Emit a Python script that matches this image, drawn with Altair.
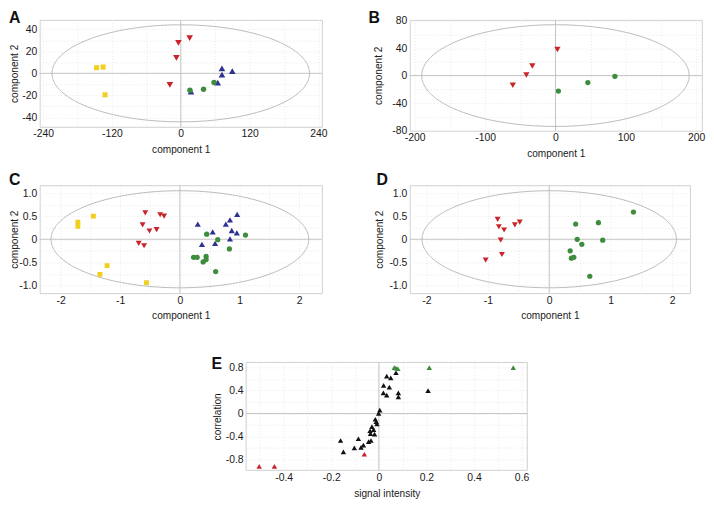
import altair as alt
import numpy as np
import pandas as pd

FONT = "Liberation Sans"
TXT = "#1a1a1a"
FRAME = "#cfcfcf"

GROUPS = ["Y", "R", "B", "G", "EK", "ER", "EG"]
GROUP_COLORS = ["#f0cf1e", "#c9242b", "#2f3192", "#3e8c3e", "#111111", "#c9242b", "#3e8c3e"]
GROUP_SHAPES = ["square", "triangle-down", "triangle-up", "circle",
                "triangle-up", "triangle-up", "triangle-up"]

# ---------------- Panel A ----------------
A_x = [-146.8, -135.4, -132.0, 15.5, -4.1, -7.6, -19.0, 16.0, 39.7, 58.0,
       17.8, 64.4, 71.8, 71.8, 89.8]
A_y = [5.1, 5.7, -19.5, 32.0, 27.6, 14.1, -10.5, -15.3, -14.4, -8.4,
       -16.5, -8.4, 4.5, -1.2, 2.1]
A_g = ["Y", "Y", "Y", "R", "R", "R", "R", "G", "G", "G", "B", "B", "B", "B", "B"]
A_ell = [224.5, 44.0]
A_xgrid = [-240, -180, -120, -60, 0, 60, 120, 180, 240]
A_xticks = [-240, -120, 0, 120, 240]
A_xlabels = ["-240", "-120", "0", "120", "240"]
A_ygrid = [-40, -30, -20, -10, 0, 10, 20, 30, 40]
A_yticks = [-40, -20, 0, 20, 40]
A_ylabels = ["-40", "-20", "0", "20", "40"]

# ---------------- Panel B ----------------
B_x = [2.8, -32.9, -41.3, -60.6, 4.2, 46.0, 84.5]
B_y = [37.9, 13.9, 0.9, -14.0, -22.6, -10.1, -1.0]
B_g = ["R", "R", "R", "R", "G", "G", "G"]
B_ell = [190.0, 74.0]
B_xgrid = [-200, -150, -100, -50, 0, 50, 100, 150, 200]
B_xticks = [-200, -100, 0, 100, 200]
B_xlabels = ["-200", "-100", "0", "100", "200"]
B_ygrid = [-80, -60, -40, -20, 0, 20, 40, 60, 80]
B_yticks = [-80, -40, 0, 40, 80]
B_ylabels = ["-80", "-40", "0", "40", "80"]

# ---------------- Panel C ----------------
C_x = [-1.45, -1.71, -1.71, -1.22, -1.34, -0.56,
       -0.58, -0.33, -0.265, -0.625, -0.51, -0.39, -0.69, -0.60,
       0.30, 0.55, 0.37, 0.59, 0.77, 0.84, 0.96, 0.87, 0.955, 0.84,
       0.45, 0.635, 1.10, 0.83, 0.23, 0.29, 0.44, 0.44, 0.39, 0.60]
C_y = [0.50, 0.37, 0.28, -0.57, -0.76, -0.94,
       0.57, 0.53, 0.50, 0.31, 0.18, 0.21, -0.09, -0.14,
       0.33, 0.16, -0.11, -0.09, 0.33, 0.42, 0.54, 0.19, 0.14, 0.01,
       0.11, -0.01, 0.09, -0.21, -0.39, -0.39, -0.37, -0.44, -0.49, -0.70]
C_g = ["Y"] * 6 + ["R"] * 8 + ["B"] * 10 + ["G"] * 10
C_ell = [2.16, 1.05]
CD_xgrid = [-2, -1.5, -1, -0.5, 0, 0.5, 1, 1.5, 2]
CD_xticks = [-2, -1, 0, 1, 2]
CD_xlabels = ["-2", "-1", "0", "1", "2"]
CD_ygrid = [-1, -0.75, -0.5, -0.25, 0, 0.25, 0.5, 0.75, 1]
CD_yticks = [-1, -0.5, 0, 0.5, 1]
CD_ylabels = ["-1.0", "-0.5", "0", "0.5", "1.0"]

# ---------------- Panel D ----------------
D_x = [-0.84, -0.82, -0.735, -0.56, -0.48, -0.79, -0.77, -1.035,
       1.37, 0.80, 0.43, 0.455, 0.87, 0.53, 0.34, 0.36, 0.40, 0.66]
D_y = [0.43, 0.27, 0.20, 0.31, 0.37, -0.02, -0.33, -0.45,
       0.59, 0.36, 0.33, 0.0, -0.02, -0.11, -0.25, -0.41, -0.39, -0.80]
D_g = ["R"] * 8 + ["G"] * 10
D_ell = [2.07, 1.05]

# ---------------- Panel E ----------------
E_x = [-0.161, -0.149, -0.103, -0.086, -0.075, -0.065, -0.043, -0.033, -0.037,
       -0.035, -0.029, -0.022, -0.018, -0.015, -0.011, -0.008, -0.001, 0.004,
       0.019, 0.020, 0.033, 0.033, 0.044, 0.050, 0.072, 0.082, 0.082, 0.207,
       -0.503, -0.439, -0.061,
       0.065, 0.072, 0.080, 0.212, 0.565]
E_y = [-0.47, -0.67, -0.60, -0.44, -0.59, -0.55, -0.49, -0.47, -0.30,
       -0.35, -0.23, -0.28, -0.36, -0.10, -0.14, -0.18, 0.0, 0.06,
       0.36, 0.49, 0.32, 0.65, 0.46, 0.62, 0.71, 0.36, 0.29, 0.40,
       -0.92, -0.92, -0.71,
       0.80, 0.79, 0.78, 0.80, 0.80]
E_g = ["EK"] * 28 + ["ER"] * 3 + ["EG"] * 5
E_xgrid = [-0.5, -0.4, -0.3, -0.2, -0.1, 0, 0.1, 0.2, 0.3, 0.4, 0.5, 0.6]
E_xticks = [-0.4, -0.2, 0, 0.2, 0.4, 0.6]
E_xlabels = ["-0.4", "-0.2", "0", "0.2", "0.4", "0.6"]
E_ygrid = [-0.8, -0.6, -0.4, -0.2, 0, 0.2, 0.4, 0.6, 0.8]
E_yticks = [-0.8, -0.4, 0, 0.4, 0.8]
E_ylabels = ["-0.8", "-0.4", "0", "0.4", "0.8"]


def label_expr(vals, labs):
    expr = "''"
    for v, s in zip(vals, labs):
        expr = f"datum.value == {v} ? '{s}' : ({expr})"
    return expr


def panel(x, y, g, sizes, ell, xdom, ydom, grids, w, h, letter, ldx, ldy,
          xtitle, ytitle, ytx, shift=0.0):
    xgrid, xticks, xlabels, ygrid, yticks, ylabels = grids
    pts = pd.DataFrame({"x": x, "y": y, "g": g})
    common = dict(ticks=False, domain=False, grid=True, gridColor="#e9e9e9",
                  gridDash=[1, 2], gridWidth=1, labelFont=FONT, labelFontSize=10.5,
                  labelColor=TXT, labelOverlap=False, titleFont=FONT,
                  titleFontSize=10.2, titleFontWeight="normal", titleColor=TXT,
                  titleBaseline="middle", titleAlign="center")
    xa = alt.Axis(values=xgrid, labelExpr=label_expr(xticks, xlabels), labelPadding=2,
                  labelFlush=False, titleX=shift + w / 2, titleY=23, **common)
    yextra = {"offset": -shift} if shift else {}
    ya = alt.Axis(values=ygrid, labelExpr=label_expr(yticks, ylabels), labelPadding=3,
                  titleX=ytx, titleY=h / 2, titleAngle=270, **yextra, **common)
    xscale = dict(domain=xdom, nice=False, zero=False)
    if shift:
        xscale["range"] = [shift, shift + w]
    X = alt.X("x:Q", scale=alt.Scale(**xscale), axis=xa, title=xtitle)
    Y = alt.Y("y:Q", scale=alt.Scale(domain=ydom, nice=False, zero=False), axis=ya,
              title=ytitle)
    layers = []
    if shift:
        box = pd.DataFrame({"x": [xdom[0]], "x2": [xdom[1]],
                            "y": [ydom[0]], "y2": [ydom[1]]})
        layers.append(alt.Chart(box).mark_rect(
            fill="transparent", stroke=FRAME, strokeWidth=1).encode(
            x=X, x2="x2:Q", y=Y, y2="y2:Q"))
        hl = pd.DataFrame({"x": [xdom[0]], "x2": [xdom[1]], "y": [0]})
        layers.append(alt.Chart(hl).mark_rule(color="#c4c4c4", strokeWidth=1).encode(
            x=X, x2="x2:Q", y=Y))
    else:
        layers.append(alt.Chart(pd.DataFrame({"y": [0]})).mark_rule(
            color="#c4c4c4", strokeWidth=1).encode(y=Y))
    layers.append(alt.Chart(pd.DataFrame({"x": [0]})).mark_rule(
        color="#c4c4c4", strokeWidth=1).encode(x=X))
    if ell[0] > 0:
        t = np.linspace(0, 2 * np.pi, 241)
        ed = pd.DataFrame({"x": ell[0] * np.cos(t), "y": ell[1] * np.sin(t),
                           "i": np.arange(len(t))})
        layers.append(alt.Chart(ed).mark_line(color="#bababa", strokeWidth=1).encode(
            x=X, y=Y, order="i:Q"))
    for grp in GROUPS:
        sub = pts[pts["g"] == grp]
        if len(sub) == 0:
            continue
        layers.append(alt.Chart(sub).mark_point(
            filled=True, opacity=1, size=sizes[grp]).encode(
            x=X, y=Y,
            color=alt.Color("g:N", scale=alt.Scale(domain=GROUPS, range=GROUP_COLORS),
                            legend=None),
            shape=alt.Shape("g:N", scale=alt.Scale(domain=GROUPS, range=GROUP_SHAPES),
                            legend=None),
        ))
    lab = pd.DataFrame({"x": [xdom[0]], "y": [ydom[1]], "t": [letter]})
    layers.append(alt.Chart(lab).mark_text(
        align="left", baseline="alphabetic", dx=ldx, dy=ldy, font=FONT, fontSize=16,
        fontWeight="bold", color="#111111").encode(x=X, y=Y, text="t:N"))
    props = dict(width=w, height=h)
    if shift:
        props["view"] = alt.ViewBackground(stroke="transparent")
    return alt.layer(*layers).properties(**props)


def spacer(w, h):
    return alt.Chart(pd.DataFrame({"v": [0]})).mark_point(opacity=0).encode(
        x=alt.value(0), y=alt.value(0)
    ).properties(width=w, height=h, view=alt.ViewBackground(stroke="transparent"))


SZ_A = {"Y": 26, "R": 45, "B": 45, "G": 30}
SZ_B = {"R": 40, "G": 28}
SZ_CD = {"Y": 24, "R": 36, "B": 38, "G": 28}
SZ_E = {"EK": 30, "ER": 30, "EG": 30}

pA = panel(A_x, A_y, A_g, SZ_A, A_ell, [-246, 246], [-48.5, 48.5],
           (A_xgrid, A_xticks, A_xlabels, A_ygrid, A_yticks, A_ylabels),
           285, 108, "A", -31, 3, "component 1", "component 2", -25)
pB = panel(B_x, B_y, B_g, SZ_B, B_ell, [-207, 208], [-80.3, 81.1],
           (B_xgrid, B_xticks, B_xlabels, B_ygrid, B_yticks, B_ylabels),
           295, 112, "B", -41.6, 3, "component 1", "component 2", -31.6)
pC = panel(C_x, C_y, C_g, SZ_CD, C_ell, [-2.35, 2.38], [-1.165, 1.17],
           (CD_xgrid, CD_xticks, CD_xlabels, CD_ygrid, CD_yticks, CD_ylabels),
           285, 109, "C", -31, 0, "component 1", "component 2", -25)
pD = panel(D_x, D_y, D_g, SZ_CD, D_ell, [-2.27, 2.29], [-1.165, 1.17],
           (CD_xgrid, CD_xticks, CD_xlabels, CD_ygrid, CD_yticks, CD_ylabels),
           283, 109, "D", -33.7, 0, "component 1", "component 2", -31)
pE = panel(E_x, E_y, E_g, SZ_E, [0, 0], [-0.558, 0.624], [-0.99, 0.89],
           (E_xgrid, E_xticks, E_xlabels, E_ygrid, E_yticks, E_ylabels),
           284, 109, "E", -35, 6.6, "signal intensity", "correlation", -29,
           shift=208.5)

chart = alt.concat(
    pA, pB,
    spacer(285, 35), spacer(10, 35),
    pC, pD,
    spacer(285, 50), spacer(10, 50),
    pE,
    columns=2,
    spacing={"row": 10, "column": 88.8},
    align="each",
    bounds="flush",
).properties(
    padding={"left": 0, "top": -1.5, "right": 0, "bottom": 0},
    background="white",
).configure_view(stroke=FRAME, strokeWidth=1)

chart.save("out.html", embed_options={"renderer": "svg", "actions": False})
